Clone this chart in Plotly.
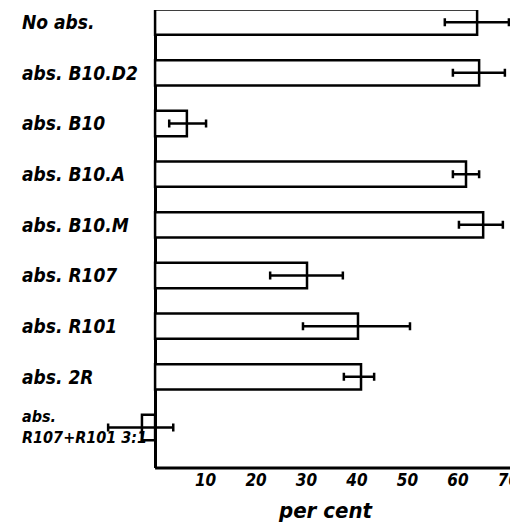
import plotly.graph_objects as go

categories = ["No abs.", "abs. B10.D2", "abs. B10", "abs. B10.A", "abs. B10.M",
              "abs. R107", "abs. R101", "abs. 2R", "abs.<br>R107+R101 3:1"]
values = [63.8, 64.2, 6.3, 61.6, 65.0, 30.1, 40.2, 40.8, -2.6]
err_low = [57.4, 59.0, 2.8, 59.0, 60.2, 22.8, 29.3, 37.4, -9.3]
err_high = [70.1, 69.3, 10.1, 64.2, 68.9, 37.2, 50.5, 43.4, 3.6]
tick_vals = [10, 20, 30, 40, 50, 60, 70]
axis_title = "per cent"

err_plus = [h - v for h, v in zip(err_high, values)]
err_minus = [v - l for l, v in zip(err_low, values)]

FONT = "DejaVu Sans Condensed, DejaVu Sans, sans-serif"

fig = go.Figure()
fig.add_trace(go.Bar(
    y=categories, x=values, orientation="h",
    marker=dict(color="white", line=dict(color="black", width=2.5)),
    width=0.5,
    error_x=dict(type="data", symmetric=False, array=err_plus, arrayminus=err_minus,
                 color="black", thickness=2.5, width=4),
    showlegend=False,
))

xmin, xmax = -12.1, 71.9
fig.update_layout(
    width=510, height=514,
    margin=dict(l=86, r=0, t=2, b=54, autoexpand=False),
    plot_bgcolor="white", paper_bgcolor="white",
    xaxis=dict(range=[xmin, xmax], tickvals=tick_vals, showgrid=False, automargin=False,
               zeroline=True, zerolinecolor="black", zerolinewidth=3,
               showline=False, ticks="", ticklabeloverflow="allow",
               tickfont=dict(family=FONT, size=17, color="black", style="italic", weight="bold")),
    yaxis=dict(range=[8.8, -0.24], showticklabels=False, showgrid=False, automargin=False,
               zeroline=False, ticks="", showline=False),
)

fig.add_shape(type="line", xref="x", yref="paper", x0=0, x1=xmax, y0=0, y1=0,
              line=dict(color="black", width=3))

fig.add_annotation(x=0.545, xref="paper", y=0, yref="paper", yshift=-42,
                   text=axis_title, showarrow=False, xanchor="center", yanchor="middle",
                   font=dict(family=FONT, size=22, color="black", style="italic", weight="bold"))

for i, c in enumerate(categories):
    small = "<br>" in c
    fig.add_annotation(
        x=-0.1745, xref="paper", y=c, yref="y", text=c, showarrow=False,
        xanchor="left", yanchor="middle", align="left",
        font=dict(family=FONT, size=16 if small else 19, color="black",
                  style="italic", weight="bold"),
    )

fig.write_html("out.html")
